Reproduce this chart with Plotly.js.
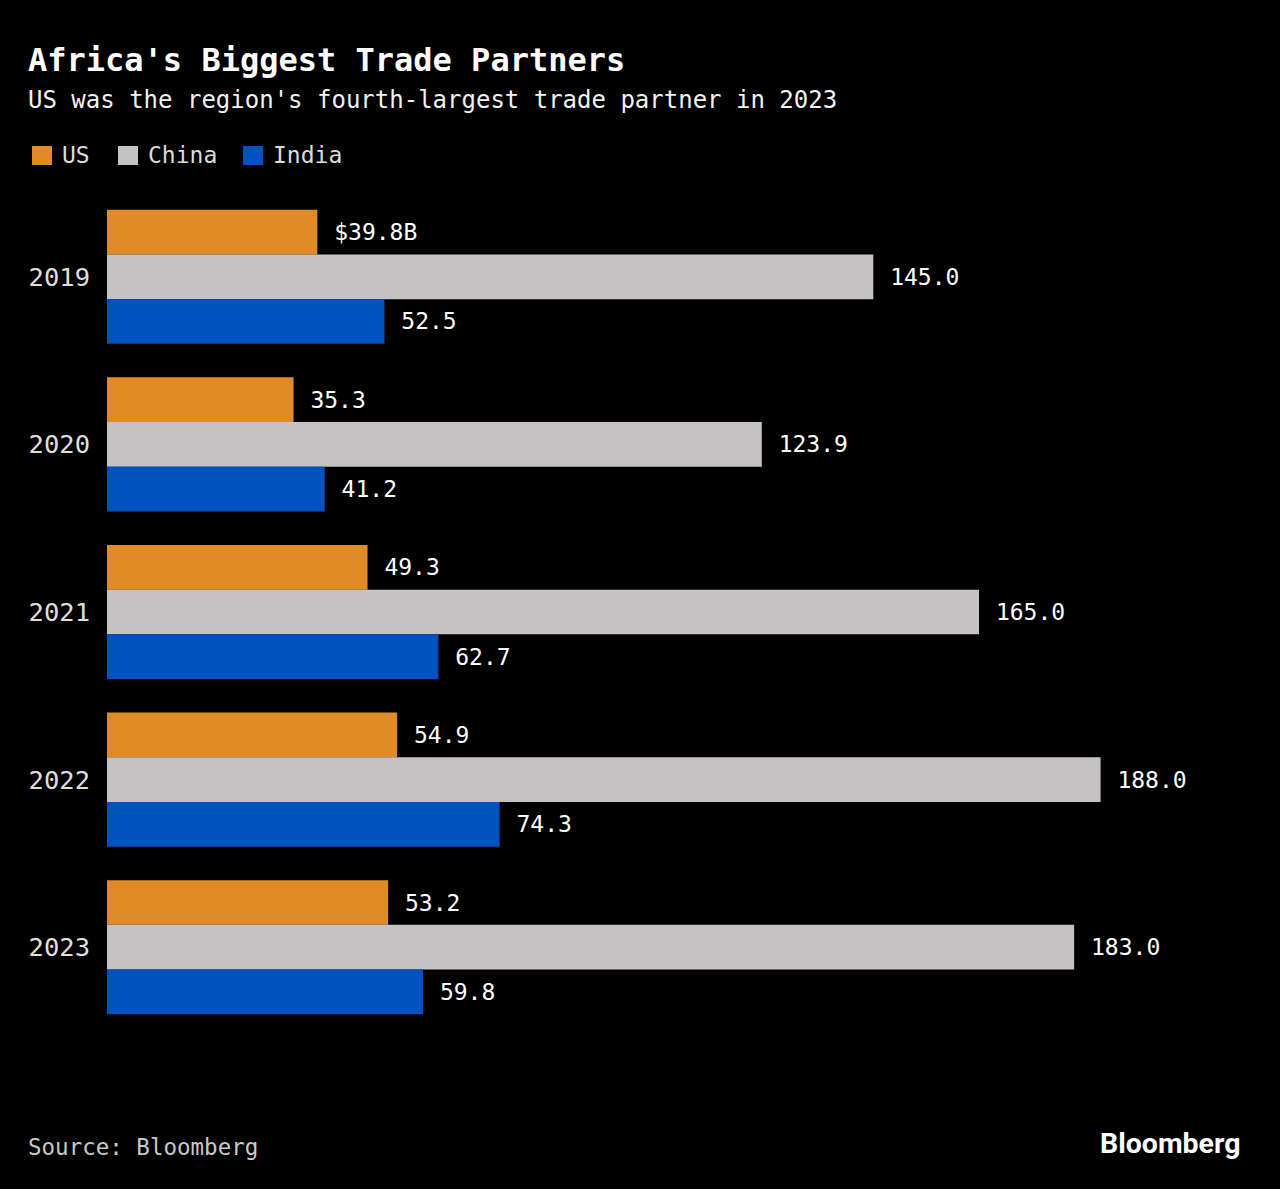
<!DOCTYPE html>
<html>
<head>
<meta charset="utf-8">
<script src="https://cdn.plot.ly/plotly-3.0.1.min.js"></script>
<style>html,body{margin:0;padding:0;background:#000;}</style>
</head>
<body>
<div id="chart" style="width:1280px;height:1189px;"></div>
<script>
// ---- data ----
const years = ["2019", "2020", "2021", "2022", "2023"];
const seriesNames = ["US", "China", "India"];
const usValues = [39.8, 35.3, 49.3, 54.9, 53.2];
const chinaValues = [145.0, 123.9, 165.0, 188.0, 183.0];
const indiaValues = [52.5, 41.2, 62.7, 74.3, 59.8];
const seriesColors = ["#e08b26", "#c4c2c3", "#0152c1"];

// ---- layout geometry ----
const W = 1280, H = 1189;
const ml = 107, mt = 193, mb = 158;
const xMax = 200;
const pxPerUnit = (873 - 107) / 145;
const pw = xMax * pxPerUnit;
const mr = W - ml - pw;
const ph = H - mt - mb;
const px2x = p => (p - ml) / pw;
const py2y = p => (mt + ph - p) / ph;

const MONO = "DejaVu Sans Mono, monospace";
const NB = "\u00a0";

function labels(vals, isFirstSeries) {
  return vals.map((v, i) => {
    const s = v.toFixed(1);
    return NB + ((isFirstSeries && i === 0) ? "$" + s + "B" : s);
  });
}

const allValues = [usValues, chinaValues, indiaValues];
const traces = allValues.map((vals, k) => ({
  type: "bar",
  orientation: "h",
  name: seriesNames[k],
  x: vals,
  y: years,
  marker: {color: seriesColors[k], line: {width: 0}},
  text: labels(vals, k === 0),
  textposition: "outside",
  textfont: {family: MONO, size: 23, color: "#ffffff"},
  constraintext: "none",
  cliponaxis: false,
  hoverinfo: "skip"
}));

const annotations = [
  {text: "<b>Africa's Biggest Trade Partners</b>", x: px2x(26), y: py2y(60),
   font: {family: MONO, size: 32, color: "#ffffff"}},
  {text: "US was the region's fourth-largest trade partner in 2023", x: px2x(26), y: py2y(100),
   font: {family: MONO, size: 24, color: "#f2f2f2"}},
  {text: "Source: Bloomberg", x: px2x(26), y: py2y(1147),
   font: {family: MONO, size: 22.5, color: "#c8c8c8"}},
  {text: "<b>Bloomberg</b>", x: px2x(1242), y: py2y(1143), xanchor: "right",
   font: {family: "Roboto, Inter, sans-serif", size: 28.5, color: "#ffffff"}}
];

// legend (manual, to match Bloomberg style)
const legendSquareX = [32, 118, 243];
const shapes = [];
seriesNames.forEach((n, k) => {
  const x0 = legendSquareX[k];
  shapes.push({type: "rect", xref: "paper", yref: "paper",
    x0: px2x(x0), x1: px2x(x0 + 20), y0: py2y(165), y1: py2y(146),
    fillcolor: seriesColors[k], line: {width: 0}});
  annotations.push({text: n, x: px2x(x0 + 28), y: py2y(155),
    font: {family: MONO, size: 23, color: "#dcdcdc"}});
});
annotations.forEach(a => {
  a.xref = "paper"; a.yref = "paper"; a.showarrow = false;
  if (!a.xanchor) a.xanchor = "left";
  a.yanchor = "middle";
});

const layout = {
  width: W, height: H,
  paper_bgcolor: "#000000",
  plot_bgcolor: "#000000",
  margin: {l: ml, r: mr, t: mt, b: mb, pad: 0},
  barmode: "group",
  bargap: 0.2,
  bargroupgap: 0,
  showlegend: false,
  hovermode: false,
  xaxis: {range: [0, xMax], visible: false, fixedrange: true},
  yaxis: {
    type: "category",
    autorange: "reversed",
    showgrid: false, zeroline: false, showline: false,
    ticks: "", ticklabelstandoff: 16,
    tickfont: {family: MONO, size: 25.5, color: "#dedede"},
    fixedrange: true
  },
  annotations: annotations,
  shapes: shapes
};

Plotly.newPlot("chart", traces, layout, {displayModeBar: false, staticPlot: true});
</script>
</body>
</html>
